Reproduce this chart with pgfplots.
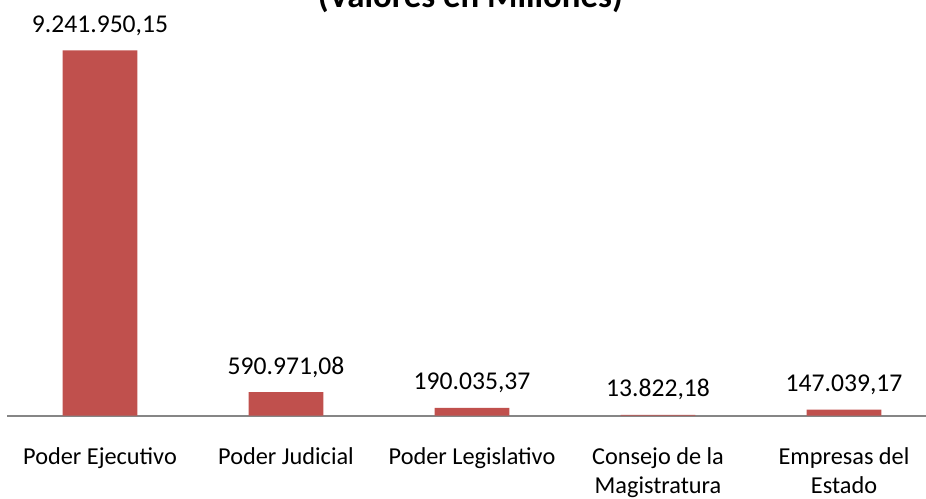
\documentclass[border=0pt]{standalone}
\usepackage{pgfplots}
\pgfplotsset{compat=1.18}
\usepackage{pgfplotstable}
\usepackage{fontspec}
\setmainfont{Carlito}
\definecolor{barred}{RGB}{192,80,77}
\definecolor{axgray}{RGB}{134,134,134}
\pgfplotstableread{
x y label
0 9241950.15 9.241.950,15
1 590971.08 590.971,08
2 190035.37 190.035,37
3 13822.18 13.822,18
4 147039.17 147.039,17
}\datatable
\begin{document}
\begin{tikzpicture}[x=1pt,y=1pt]
\begin{scope}
\clip (0,0) rectangle (926,498);
\node[anchor=base east, font=\bfseries\fontsize{34.8}{40}\selectfont, inner sep=0pt] at (623,490.5) {(Valores en Millones)};
\begin{axis}[
  at={(7pt,82.5pt)}, anchor=south west,
  scale only axis, width=930pt, height=394.94pt,
  xmin=-0.5, xmax=4.5, ymin=0, ymax=10000000,
  axis x line*=bottom, axis y line=none,
  x axis line style={-, draw=axgray, line width=2pt},
  xtick={0,1,2,3,4},
  xticklabels={{Poder Ejecutivo\\\mbox{}},{Poder Judicial\\\mbox{}},{Poder Legislativo\\\mbox{}},{Consejo de la\\Magistratura},{Empresas del\\Estado}},
  xtick style={draw=none},
  xticklabel style={align=center, anchor=base, yshift=-74pt, inner sep=0pt, font=\fontsize{24.3}{29}\selectfont},
  ybar, bar width=74.6pt, bar shift=0pt,
  nodes near coords, point meta=explicit symbolic,
  nodes near coords style={anchor=base, yshift=18pt, inner sep=0pt, font=\fontsize{25.6}{30}\selectfont, text=black},
  clip=false,
]
\addplot[fill=barred, draw=none] table[x=x,y=y,meta=label]{\datatable};
\end{axis}
\end{scope}
\pgfresetboundingbox
\useasboundingbox (0,0) rectangle (926,498);
\end{tikzpicture}
\end{document}
